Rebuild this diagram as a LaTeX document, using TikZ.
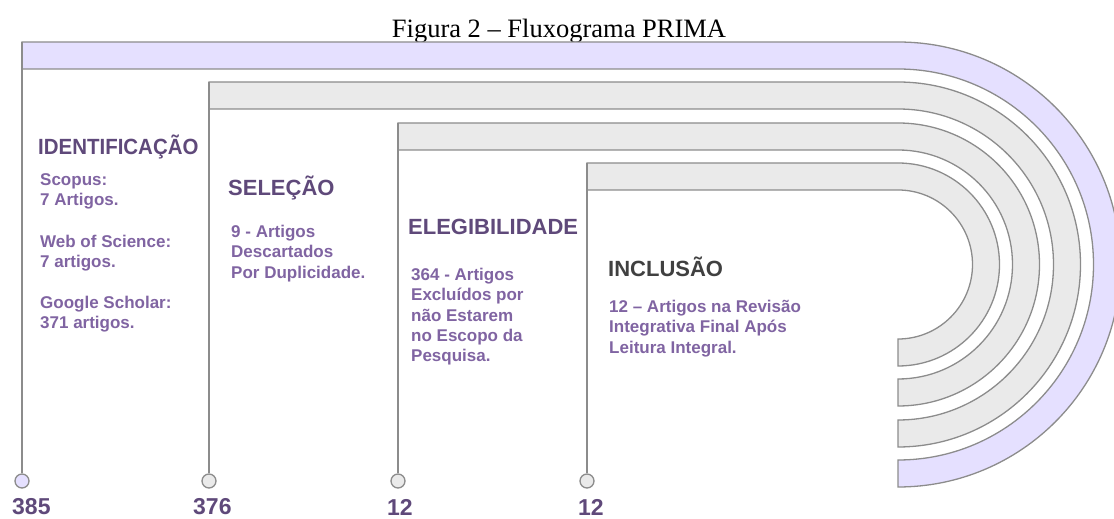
\documentclass[tikz,border=0pt]{standalone}
\usepackage{fontspec}
\setmainfont{Liberation Serif}
\newfontfamily\sansbf{Liberation Sans}

\definecolor{lavender}{HTML}{E5E0FF}
\definecolor{bandgray}{HTML}{EAEAEA}
\definecolor{edgegray}{HTML}{8C8C8C}
\definecolor{titlepurple}{HTML}{5F497A}
\definecolor{textpurple}{HTML}{8064A2}
\definecolor{darkgray}{HTML}{404040}

\tikzset{
  band/.style={draw=edgegray, line width=1.3pt},
  stem/.style={draw=edgegray, line width=1.3pt},
  dot/.style={circle, draw=edgegray, line width=1.3pt, minimum size=14pt, inner sep=0pt},
  phase/.style={anchor=base west, inner sep=0pt, text=titlepurple,
    font=\sansbf\bfseries\fontsize{22}{26}\selectfont},
  info/.style={anchor=north west, inner sep=0pt, align=left, text=textpurple,
    font=\sansbf\bfseries\fontsize{17}{20.3}\selectfont},
  count/.style={anchor=base west, inner sep=0pt, text=titlepurple,
    font=\sansbf\bfseries\fontsize{23}{26}\selectfont}
}

\begin{document}
\begin{tikzpicture}[x=1pt,y=1pt]
  \clip (0,0) rectangle (1114,519);
  \node[anchor=base, inner sep=0pt, font=\fontsize{26.5}{30}\selectfont] (title) at (559,481) {Figura 2 -- Fluxograma PRIMA};

  % bands, all bent round (898,254.5)
  \draw[band, fill=lavender] (22,477) -- (898,477) arc[start angle=90, end angle=-90, radius=222.5]
    -- (898,59) arc[start angle=-90, end angle=90, radius=195.5] -- (22,450) -- cycle;
  \draw[band, fill=bandgray] (209,437) -- (898,437) arc[start angle=90, end angle=-90, radius=182.5]
    -- (898,99) arc[start angle=-90, end angle=90, radius=155.5] -- (209,410) -- cycle;
  \draw[band, fill=bandgray] (398,396) -- (898,396) arc[start angle=90, end angle=-90, radius=141.5]
    -- (898,140) arc[start angle=-90, end angle=90, radius=114.5] -- (398,369) -- cycle;
  \draw[band, fill=bandgray] (587,356) -- (898,356) arc[start angle=90, end angle=-90, radius=101.5]
    -- (898,180) arc[start angle=-90, end angle=90, radius=74.5] -- (587,329) -- cycle;

  \coordinate (b1) at (22,477);
  \coordinate (b2) at (209,437);
  \coordinate (b3) at (398,396);
  \coordinate (b4) at (587,356);

  \node[dot, fill=lavender] (d1) at (22,38) {};
  \node[dot, fill=bandgray] (d2) at (209,38) {};
  \node[dot, fill=bandgray] (d3) at (398,38) {};
  \node[dot, fill=bandgray] (d4) at (587,38) {};
  \draw[stem] (b1) -- (d1);
  \draw[stem] (b2) -- (d2);
  \draw[stem] (b3) -- (d3);
  \draw[stem] (b4) -- (d4);

  \node[count] (n1) at (12,4) {385};
  \node[count] (n2) at (193,4) {376};
  \node[count] (n3) at (387,3) {12};
  \node[count] (n4) at (578,3) {12};

  % phases
  \node[phase] (ident) at (38,364) {\scalebox{0.93}[1]{IDENTIFICAÇÃO}};
  \node[phase] (selec) at (228,323) {SELEÇÃO};
  \node[phase] (elegi) at (408,284) {ELEGIBILIDADE};
  \node[phase, text=darkgray] (inclu) at (608,242) {INCLUSÃO};

  \node[info] (scopus) at (40,346) {Scopus:\\7 Artigos.};
  \node[info] (wos) at (40,284) {Web of Science:\\7 artigos.};
  \node[info] (gs) at (40,223) {Google Scholar:\\371 artigos.};
  \node[info] (dup) at (231,294) {9 - Artigos\\Descartados\\Por Duplicidade.};
  \node[info] (esc) at (411,251) {364 - Artigos\\Excluídos por\\não Estarem\\no Escopo da\\Pesquisa.};
  \node[info] (fin) at (609,219) {12 – Artigos na Revisão\\Integrativa Final Após\\Leitura Integral.};
\end{tikzpicture}
\end{document}
